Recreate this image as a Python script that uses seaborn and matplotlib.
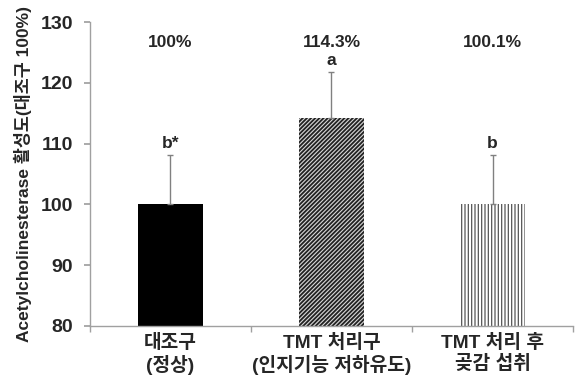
import matplotlib
matplotlib.use("Agg")
import matplotlib.pyplot as plt
import seaborn as sns
import pandas as pd
import numpy as np

categories = ["대조구\n(정상)", "TMT 처리구\n(인지기능 저하유도)", "TMT 처리 후\n곶감 섭취"]
values = [100.0, 114.3, 100.1]
errors = [8.2, 7.5, 8.1]
pct_labels = ["100%", "114.3%", "100.1%"]
sig_letters = ["b*", "a", "b"]
yticks = [80, 90, 100, 110, 120, 130]

sns.set_theme(style="white")
FAM = ['Liberation Sans', 'Noto Sans CJK KR', 'DejaVu Sans']
plt.rcParams['font.family'] = FAM
plt.rcParams['hatch.linewidth'] = 0.9

df = pd.DataFrame({"group": categories, "value": values})

fig = plt.figure(figsize=(5.8, 3.88), dpi=100)
ax = fig.add_axes([0.155, 0.16, 0.833, 0.783])

sns.barplot(data=df, x="group", y="value", ax=ax, width=0.4,
            color="white", errorbar=None, saturation=1)

styles = [
    dict(facecolor="black", edgecolor="black", hatch=None, hlw=0.9),
    dict(facecolor="#d8d8d8", edgecolor="#222222", hatch="////////", hlw=1.3),
    dict(facecolor="white", edgecolor="#555555", hatch="|||||", hlw=0.9),
]
for patch, st in zip(ax.patches, styles):
    patch.set_facecolor(st["facecolor"])
    patch.set_edgecolor(st["edgecolor"])
    patch.set_linewidth(0)
    if st["hatch"]:
        patch.set_hatch(st["hatch"])
        if hasattr(patch, "set_hatch_linewidth"):
            patch.set_hatch_linewidth(st["hlw"])

x = np.arange(len(categories))
ax.errorbar(x, values, yerr=[np.zeros(len(errors)), errors], fmt="none",
            ecolor="#808080", elinewidth=1, capsize=2, capthick=1)

for xi, v, e, lab in zip(x, values, errors, sig_letters):
    ax.text(xi, v + e + 0.6, lab, ha="center", va="bottom", fontsize=12.5,
            fontweight="bold")
for xi, lab in zip(x, pct_labels):
    ax.text(xi, 126.6, lab, ha="center", va="center", fontsize=12.5,
            fontweight="bold")

ax.set_ylim(80, 130)
ax.set_yticks(yticks)
ax.set_xlim(-0.5, 2.5)
ax.set_xlabel("")
ax.set_ylabel("Acetylcholinesterase 활성도(대조구 100%)", fontsize=12.5,
              fontweight="bold", labelpad=6)

for lbl in ax.get_yticklabels():
    lbl.set_fontweight("bold")
    lbl.set_fontsize(14)
ax.set_xticks(x)
ax.set_xticklabels(categories, fontsize=13.8, fontweight="bold", linespacing=1.2)
ax.tick_params(axis="x", length=0, pad=6)
ax.set_xticks([-0.5, 0.5, 1.5, 2.5], minor=True)
ax.tick_params(axis="x", which="minor", length=4, color="#a0a0a0", direction="out", bottom=True)
ax.tick_params(axis="y", length=4, color="#a0a0a0", direction="out", left=True, pad=8)

for side in ["top", "right"]:
    ax.spines[side].set_visible(False)
for side in ["left", "bottom"]:
    ax.spines[side].set_color("#a0a0a0")
    ax.spines[side].set_linewidth(1)

fig.savefig("out.png", dpi=100)
